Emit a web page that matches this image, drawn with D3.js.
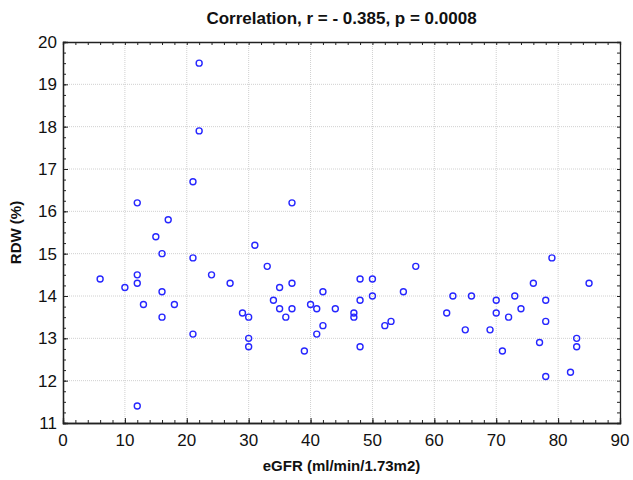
<!DOCTYPE html>
<html>
<head>
<meta charset="utf-8">
<script src="https://cdn.jsdelivr.net/npm/d3@7"></script>
<style>
  body { margin: 0; background: #fff; }
  text { font-family: Arial, "Liberation Sans", sans-serif; }
</style>
</head>
<body>
<div id="chart"></div>
<script>
// 데이터: eGFR vs RDW
const egfr = [6, 10, 12, 12, 12, 12, 13, 15, 16, 16, 16, 17, 18, 21, 21, 21, 22, 22, 24, 27,
  29, 30, 30, 30, 31, 33, 34, 35, 35, 36, 37, 37, 37, 39, 40, 41, 41, 42, 42, 44,
  47, 47, 48, 48, 48, 50, 50, 52, 53, 55, 57, 62, 63, 65, 66, 69, 70, 70, 71, 72,
  73, 74, 76, 77, 78, 78, 78, 79, 82, 83, 83, 85];
const rdw = [14.4, 14.2, 16.2, 14.5, 14.3, 11.4, 13.8, 15.4, 15.0, 14.1, 13.5, 15.8, 13.8, 16.7, 14.9, 13.1, 19.5, 17.9, 14.5, 14.3,
  13.6, 13.5, 13.0, 12.8, 15.2, 14.7, 13.9, 14.2, 13.7, 13.5, 16.2, 14.3, 13.7, 12.7, 13.8, 13.7, 13.1, 14.1, 13.3, 13.7,
  13.6, 13.5, 14.4, 13.9, 12.8, 14.4, 14.0, 13.3, 13.4, 14.1, 14.7, 13.6, 14.0, 13.2, 14.0, 13.2, 13.9, 13.6, 12.7, 13.5,
  14.0, 13.7, 14.3, 12.9, 13.9, 13.4, 12.1, 14.9, 12.2, 13.0, 12.8, 14.3];

const xTicks = [0, 10, 20, 30, 40, 50, 60, 70, 80, 90];
const yTicks = [11, 12, 13, 14, 15, 16, 17, 18, 19, 20];

const titleText = 'Correlation, r = - 0.385, p = 0.0008';
const xLabel = 'eGFR (ml/min/1.73m2)';
const yLabel = 'RDW (%)';

const width = 633, height = 480;
const margin = { top: 42, right: 13, bottom: 57, left: 63 };
const innerW = width - margin.left - margin.right;
const innerH = height - margin.top - margin.bottom;

const svg = d3.select('#chart').append('svg')
  .attr('width', width)
  .attr('height', height);

const g = svg.append('g').attr('transform', `translate(${margin.left},${margin.top})`);

const x = d3.scaleLinear().domain([0, 90]).range([0, innerW]);
const y = d3.scaleLinear().domain([11, 20]).range([innerH, 0]);

// 그리드 (점선)
g.append('g').selectAll('line.vgrid')
  .data(xTicks.slice(1, -1))
  .enter().append('line')
  .attr('x1', d => x(d)).attr('x2', d => x(d))
  .attr('y1', 0).attr('y2', innerH)
  .attr('stroke', '#d0d0d0').attr('stroke-width', 1)
  .attr('stroke-dasharray', '1,1');

g.append('g').selectAll('line.hgrid')
  .data(yTicks.slice(1, -1))
  .enter().append('line')
  .attr('x1', 0).attr('x2', innerW)
  .attr('y1', d => y(d)).attr('y2', d => y(d))
  .attr('stroke', '#d0d0d0').attr('stroke-width', 1)
  .attr('stroke-dasharray', '1,1');

// 축 (눈금은 안쪽으로)
const xMinor = d3.range(0, 90.01, 2);
const yMinor = d3.range(11, 20.01, 0.25);

const axB = d3.axisBottom(x).tickValues(xMinor).tickSize(-3).tickFormat('');
const axT = d3.axisTop(x).tickValues(xMinor).tickSize(-3).tickFormat('');
const axL = d3.axisLeft(y).tickValues(yMinor).tickSize(-3).tickFormat('');
const axR = d3.axisRight(y).tickValues(yMinor).tickSize(-3).tickFormat('');

g.append('g').attr('transform', `translate(0,${innerH})`).call(axB);
g.append('g').call(axT);
g.append('g').call(axL);
g.append('g').attr('transform', `translate(${innerW},0)`).call(axR);

// 주 눈금 (조금 더 길게)
g.append('g').attr('transform', `translate(0,${innerH})`)
  .call(d3.axisBottom(x).tickValues(xTicks).tickSize(-5).tickFormat(''));
g.append('g')
  .call(d3.axisLeft(y).tickValues(yTicks).tickSize(-5).tickFormat(''));

g.selectAll('.domain').attr('stroke', '#222').attr('stroke-width', 1.3);
g.selectAll('.tick line').attr('stroke', '#222');

// 눈금 라벨
g.selectAll('text.xlab')
  .data(xTicks)
  .enter().append('text')
  .attr('class', 'xlab')
  .attr('x', d => x(d))
  .attr('y', innerH + 23)
  .attr('text-anchor', 'middle')
  .attr('font-size', 17)
  .attr('fill', '#111')
  .text(d => d);

g.selectAll('text.ylab')
  .data(yTicks)
  .enter().append('text')
  .attr('class', 'ylab')
  .attr('x', -6)
  .attr('y', d => y(d) + 6)
  .attr('text-anchor', 'end')
  .attr('font-size', 17)
  .attr('fill', '#111')
  .text(d => d);

// 점
g.selectAll('circle.pt')
  .data(egfr.map((v, i) => [v, rdw[i]]))
  .enter().append('circle')
  .attr('class', 'pt')
  .attr('cx', d => x(d[0]))
  .attr('cy', d => y(d[1]))
  .attr('r', 3)
  .attr('fill', 'none')
  .attr('stroke', '#2626ff')
  .attr('stroke-width', 1.4);

// 제목, 축 제목
svg.append('text')
  .attr('x', margin.left + innerW / 2)
  .attr('y', 24)
  .attr('text-anchor', 'middle')
  .attr('font-size', 17)
  .attr('font-weight', 'bold')
  .attr('fill', '#111')
  .text(titleText);

svg.append('text')
  .attr('x', margin.left + innerW / 2)
  .attr('y', 471)
  .attr('text-anchor', 'middle')
  .attr('font-size', 15)
  .attr('font-weight', 'bold')
  .attr('fill', '#111')
  .text(xLabel);

svg.append('text')
  .attr('transform', `translate(21,${margin.top + innerH / 2}) rotate(-90)`)
  .attr('text-anchor', 'middle')
  .attr('font-size', 15)
  .attr('font-weight', 'bold')
  .attr('fill', '#111')
  .text(yLabel);
</script>
</body>
</html>
